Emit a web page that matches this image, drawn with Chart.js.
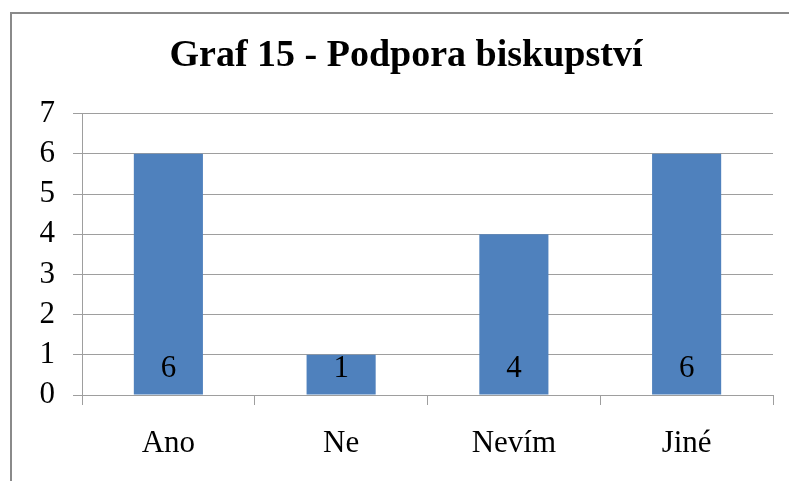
<!DOCTYPE html>
<html>
<head>
<meta charset="utf-8">
<script src="https://cdn.jsdelivr.net/npm/chart.js@4/dist/chart.umd.min.js"></script>
<style>
html,body{margin:0;padding:0;background:#fff;}
#wrap{width:789px;height:481px;}
</style>
</head>
<body>
<div id="wrap"><canvas id="c" width="789" height="481"></canvas></div>
<script>
const titleText = 'Graf 15 - Podpora biskupství';
const categories = ['Ano', 'Ne', 'Nevím', 'Jiné'];
const values = [6, 1, 4, 6];
const yTicks = [0, 1, 2, 3, 4, 5, 6, 7];

const FONT = "'Liberation Serif', 'Times New Roman', serif";

const frame = {
  id: 'frame',
  beforeDraw(chart) {
    const ctx = chart.ctx;
    ctx.save();
    ctx.fillStyle = '#ffffff';
    ctx.fillRect(0, 0, chart.width, chart.height);
    ctx.strokeStyle = '#8a8a8a';
    ctx.lineWidth = 2;
    ctx.strokeRect(11, 13, 900, 600);
    ctx.restore();
  }
};

const barLabels = {
  id: 'barLabels',
  afterDatasetsDraw(chart) {
    const ctx = chart.ctx;
    const meta = chart.getDatasetMeta(0);
    const zero = chart.scales.y.getPixelForValue(0);
    ctx.save();
    ctx.font = '31px ' + FONT;
    ctx.fillStyle = '#000';
    ctx.textAlign = 'center';
    ctx.textBaseline = 'alphabetic';
    meta.data.forEach((bar, i) => {
      ctx.fillText(String(values[i]), bar.x, zero - 18);
    });
    ctx.restore();
  }
};

new Chart(document.getElementById('c'), {
  type: 'bar',
  data: {
    labels: categories,
    datasets: [{
      data: values,
      backgroundColor: '#4F81BD',
      borderWidth: 0,
      categoryPercentage: 1,
      barPercentage: 0.4
    }]
  },
  options: {
    responsive: false,
    animation: false,
    layout: { padding: { left: 39, right: 16, top: 0, bottom: 0 } },
    plugins: {
      legend: { display: false },
      tooltip: { enabled: false },
      title: {
        display: true,
        text: titleText,
        color: '#000',
        font: { family: FONT, size: 38, weight: 'bold', lineHeight: 1.2 },
        padding: { top: 33, bottom: 35 }
      }
    },
    scales: {
      x: {
        grid: {
          display: true,
          drawOnChartArea: false,
          drawTicks: true,
          tickLength: 10,
          offset: true,
          color: '#9e9e9e',
          lineWidth: 1
        },
        border: { display: true, color: '#9e9e9e', width: 1 },
        ticks: {
          color: '#000',
          font: { family: FONT, size: 31 },
          padding: 20,
          maxRotation: 0
        },
        afterFit(scale) { scale.height = 86; }
      },
      y: {
        min: 0,
        max: 7,
        afterBuildTicks(scale) { scale.ticks = yTicks.map(v => ({ value: v })); },
        grid: {
          color: '#9e9e9e',
          lineWidth: 1,
          drawTicks: true,
          tickLength: 9
        },
        border: { display: true, color: '#9e9e9e', width: 1 },
        ticks: {
          color: '#000',
          font: { family: FONT, size: 31 },
          padding: 18
        },
        afterFit(scale) { scale.width = 43; }
      }
    }
  },
  plugins: [frame, barLabels]
});
</script>
</body>
</html>
